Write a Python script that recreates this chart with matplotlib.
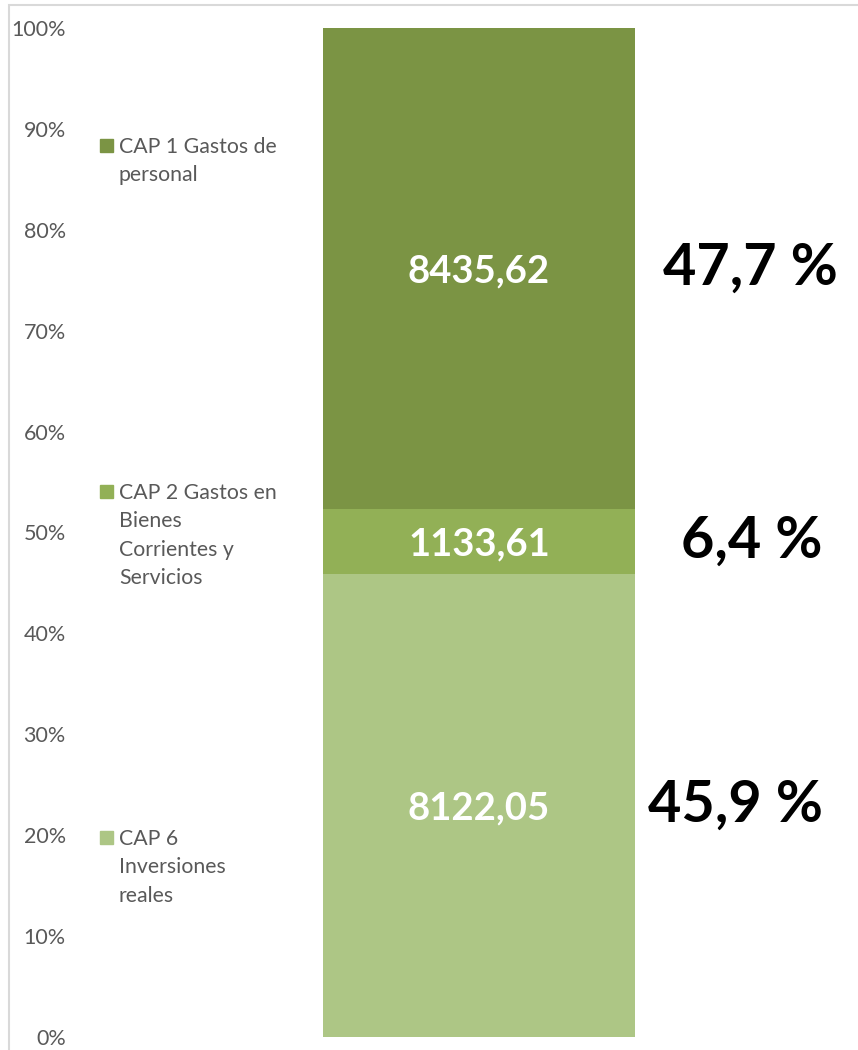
import matplotlib
matplotlib.use("Agg")
import matplotlib.pyplot as plt
from matplotlib.patches import Rectangle

# data
categories = ["CAP 6\nInversiones\nreales",
              "CAP 2 Gastos en\nBienes\nCorrientes y\nServicios",
              "CAP 1 Gastos de\npersonal"]
values = [8122.05, 1133.61, 8435.62]
value_labels = ["8122,05", "1133,61", "8435,62"]
share_labels = ["45,9 %", "6,4 %", "47,7 %"]
colors = ["#ADC685", "#92B056", "#7B9444"]
yticks = [0, 10, 20, 30, 40, 50, 60, 70, 80, 90, 100]

plt.rcParams["font.family"] = ["Lato", "DejaVu Sans"]

W, H = 858, 1050
fig = plt.figure(figsize=(W / 100, H / 100), dpi=100)

# plot area in pixels: x 70..858, y 28..1037
ax = fig.add_axes([70 / W, (H - 1037) / H, (W - 70) / W, (1037 - 28) / H])
ax.set_xlim(0, 1)
ax.set_ylim(0, 100)

total = sum(values)
pcts = [v / total * 100 for v in values]

bar_x = (479 - 70) / (W - 70)
bar_w = 312 / (W - 70)
share_x = [735, 752, 750]

bottom = 0
for i, p in enumerate(pcts):
    ax.bar(bar_x, p, width=bar_w, bottom=bottom, color=colors[i], linewidth=0)
    mid = bottom + p / 2
    ax.text(bar_x, mid - 0.3, value_labels[i], ha="center", va="center",
            color="white", fontsize=27.5, fontweight="bold")
    ax.text((share_x[i] - 70) / (W - 70), mid, share_labels[i], ha="center",
            va="center", color="black", fontsize=41.5, fontweight="bold")
    bottom += p

ax.set_yticks(yticks)
ax.set_yticklabels([f"{t}%" for t in yticks], fontsize=15.5, color="#595959")
ax.tick_params(axis="y", length=0, pad=3)
ax.set_xticks([])
for s in ax.spines.values():
    s.set_visible(False)

# legend, drawn by hand like the Excel one
leg_y = [838, 492, 146]
for i, lab in enumerate(categories):
    y = (H - leg_y[i]) / H
    fig.patches.append(Rectangle((100 / W, y - 6 / H), 13 / W, 13 / H,
                                 transform=fig.transFigure, color=colors[i]))
    fig.text(119 / W, y + 9 / H, lab, ha="left", va="top", fontsize=15.3,
             color="#595959", linespacing=1.52)

# chart frame
fig.patches.append(Rectangle((9 / W, -0.1), 1.2, (H - 5) / H + 0.1,
                             transform=fig.transFigure, fill=False,
                             edgecolor="#D9D9D9", linewidth=1.5))

fig.savefig("out.png", dpi=100)
